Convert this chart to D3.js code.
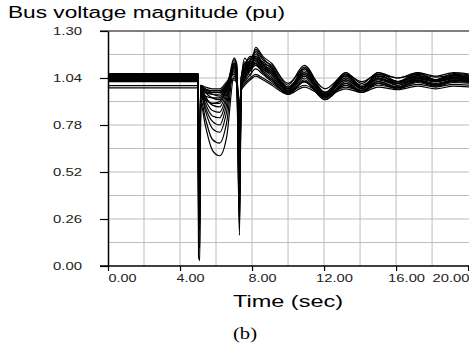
<!DOCTYPE html>
<html>
<head>
<meta charset="utf-8">
<script src="https://d3js.org/d3.v7.min.js"></script>
<style>
  body { margin: 0; background: #fff; }
  svg { display: block; }
</style>
</head>
<body>
<div id="chart"></div>
<script>
// time samples (sec) shared by all bus traces
const times = [0, 5.0, 5.03, 5.1, 5.15, 5.4, 5.8, 6.2, 6.6, 7.0, 7.15, 7.3, 7.4, 7.6, 7.9, 8.2, 8.6, 9.1, 10.0, 10.9, 12.05, 13.2, 14.1, 15.0, 16.1, 17.2, 18.2, 19.2, 20.2];

// bus voltage magnitudes (pu), one array per bus
const bus1  = [1.065, 1.065, 0.05, 0.03, 0.90, 0.78, 0.64, 0.61, 0.72, 1.05, 1.02, 0.17, 0.98, 1.12, 1.05, 1.20, 1.15, 1.10, 0.96, 1.09, 0.93, 1.06, 0.98, 1.07, 1.02, 1.07, 1.03, 1.065, 1.055];
const bus2  = [1.06, 1.06, 0.12, 0.10, 0.92, 0.82, 0.70, 0.68, 0.80, 1.10, 1.06, 0.21, 1.00, 1.08, 1.14, 1.18, 1.12, 1.08, 0.97, 1.10, 0.94, 1.07, 0.99, 1.06, 1.01, 1.065, 1.03, 1.06, 1.05];
const bus3  = [1.058, 1.058, 0.37, 0.35, 0.95, 0.86, 0.76, 0.74, 0.86, 1.13, 1.10, 0.30, 1.02, 1.15, 1.10, 1.21, 1.16, 1.12, 1.00, 1.11, 0.96, 1.07, 1.01, 1.07, 1.04, 1.07, 1.05, 1.07, 1.06];
const bus4  = [1.055, 1.055, 0.44, 0.42, 0.96, 0.88, 0.80, 0.78, 0.90, 1.12, 1.09, 0.35, 1.01, 1.10, 1.16, 1.15, 1.13, 1.09, 0.98, 1.08, 0.95, 1.06, 0.99, 1.05, 1.02, 1.055, 1.03, 1.05, 1.045];
const bus5  = [1.052, 1.052, 0.52, 0.50, 0.97, 0.90, 0.83, 0.82, 0.93, 1.14, 1.11, 0.38, 1.03, 1.13, 1.08, 1.17, 1.12, 1.10, 0.99, 1.07, 0.96, 1.05, 0.99, 1.05, 1.02, 1.05, 1.03, 1.045, 1.04];
const bus6  = [1.05, 1.05, 0.32, 0.30, 0.98, 0.92, 0.86, 0.85, 0.95, 1.11, 1.08, 0.42, 1.04, 1.12, 1.15, 1.16, 1.11, 1.07, 0.98, 1.06, 0.95, 1.04, 0.98, 1.04, 1.01, 1.04, 1.02, 1.04, 1.035];
const bus7  = [1.048, 1.048, 0.57, 0.55, 0.99, 0.94, 0.89, 0.88, 0.97, 1.15, 1.12, 0.50, 1.05, 1.09, 1.13, 1.19, 1.14, 1.11, 1.01, 1.09, 0.98, 1.06, 1.02, 1.06, 1.04, 1.06, 1.045, 1.055, 1.05];
const bus8  = [1.045, 1.045, 0.47, 0.45, 0.97, 0.93, 0.90, 0.90, 0.98, 1.10, 1.07, 0.55, 1.00, 1.06, 1.12, 1.14, 1.10, 1.06, 0.97, 1.05, 0.94, 1.03, 0.98, 1.04, 1.00, 1.035, 1.02, 1.035, 1.03];
const bus9  = [1.042, 1.042, 0.62, 0.60, 1.00, 0.96, 0.93, 0.92, 0.99, 1.12, 1.09, 0.60, 1.03, 1.10, 1.14, 1.15, 1.11, 1.08, 0.99, 1.07, 0.96, 1.05, 1.00, 1.05, 1.02, 1.045, 1.03, 1.045, 1.04];
const bus10 = [1.04, 1.04, 0.27, 0.25, 0.96, 0.94, 0.93, 0.93, 1.00, 1.09, 1.06, 0.65, 0.99, 1.05, 1.10, 1.13, 1.09, 1.05, 0.96, 1.04, 0.93, 1.02, 0.97, 1.03, 1.00, 1.03, 1.01, 1.03, 1.025];
const bus11 = [1.037, 1.037, 0.67, 0.65, 1.00, 0.97, 0.95, 0.94, 1.00, 1.11, 1.08, 0.70, 1.02, 1.08, 1.12, 1.14, 1.10, 1.07, 0.98, 1.06, 0.95, 1.04, 0.99, 1.04, 1.01, 1.04, 1.025, 1.04, 1.035];
const bus12 = [1.035, 1.035, 0.40, 0.38, 0.98, 0.96, 0.95, 0.95, 1.00, 1.08, 1.05, 0.75, 0.98, 1.04, 1.09, 1.12, 1.08, 1.04, 0.95, 1.03, 0.92, 1.01, 0.96, 1.02, 0.99, 1.025, 1.00, 1.025, 1.02];
const bus13 = [1.032, 1.032, 0.72, 0.70, 1.00, 0.98, 0.96, 0.96, 1.01, 1.10, 1.07, 0.80, 1.01, 1.07, 1.11, 1.13, 1.09, 1.06, 0.97, 1.05, 0.95, 1.03, 0.98, 1.035, 1.01, 1.035, 1.02, 1.035, 1.03];
const bus14 = [1.03, 1.03, 0.50, 0.48, 0.99, 0.98, 0.97, 0.97, 1.01, 1.07, 1.04, 0.45, 0.99, 1.03, 1.08, 1.11, 1.07, 1.03, 0.95, 1.02, 0.93, 1.01, 0.97, 1.02, 0.99, 1.025, 1.005, 1.025, 1.02];
const bus15 = [1.025, 1.025, 0.60, 0.58, 1.00, 0.99, 0.98, 0.98, 1.02, 1.06, 1.03, 0.85, 1.00, 1.02, 1.06, 1.09, 1.06, 1.02, 0.96, 1.02, 0.94, 1.00, 0.97, 1.01, 0.99, 1.02, 1.00, 1.02, 1.015];
const bus16 = [1.02, 1.02, 0.22, 0.20, 0.94, 0.92, 0.90, 0.91, 0.98, 1.08, 1.05, 0.25, 0.97, 1.04, 1.10, 1.12, 1.07, 1.03, 0.95, 1.02, 0.92, 1.00, 0.96, 1.01, 0.98, 1.015, 0.995, 1.015, 1.01];
const bus17 = [0.998, 0.998, 0.68, 0.66, 0.98, 0.97, 0.97, 0.97, 0.99, 1.04, 1.02, 0.88, 0.98, 1.01, 1.04, 1.06, 1.04, 1.01, 0.96, 1.00, 0.95, 0.99, 0.97, 1.00, 0.985, 1.005, 0.99, 1.005, 1.0];
const bus18 = [0.985, 0.985, 0.57, 0.55, 0.97, 0.96, 0.96, 0.96, 0.98, 1.03, 1.01, 0.90, 0.97, 1.00, 1.03, 1.05, 1.03, 1.00, 0.95, 0.99, 0.94, 0.98, 0.96, 0.99, 0.975, 0.995, 0.98, 0.995, 0.99];

const buses = [bus1, bus2, bus3, bus4, bus5, bus6, bus7, bus8, bus9, bus10,
  bus11, bus12, bus13, bus14, bus15, bus16, bus17, bus18];

// axis ticks
const yTicks = [0.00, 0.26, 0.52, 0.78, 1.04, 1.30];
const yGrid = [0.13, 0.39, 0.65, 0.91, 1.17, 0.26, 0.52, 0.78, 1.04];
const xTicks = [0, 4, 8, 12, 16, 20];
const xGrid = [2, 4, 6, 8, 10, 12, 14, 16, 18];

const W = 469, H = 350;
const margin = { top: 31, right: 0, bottom: 84, left: 108 },
  width = W - margin.left - margin.right,
  height = H - margin.top - margin.bottom;

const svg = d3.select("#chart").append("svg")
  .attr("width", W)
  .attr("height", H);

const x = d3.scaleLinear().domain([0, 20.05]).range([0, width]);
const y = d3.scaleLinear().domain([0, 1.30]).range([height, 0]);

const g = svg.append("g")
  .attr("transform", "translate(" + margin.left + "," + margin.top + ")");

// grid
g.append("g").selectAll("line")
  .data(yGrid).enter().append("line")
    .attr("x1", 0).attr("x2", width)
    .attr("y1", d => y(d)).attr("y2", d => y(d))
    .style("stroke", "#bdbdbd").style("stroke-width", 1);

g.append("g").selectAll("line")
  .data(xGrid).enter().append("line")
    .attr("x1", d => x(d)).attr("x2", d => x(d))
    .attr("y1", 0).attr("y2", height)
    .style("stroke", "#bdbdbd").style("stroke-width", 1);

// traces
svg.append("clipPath").attr("id", "clip")
  .append("rect").attr("width", width).attr("height", height);

const line = d3.line()
  .x((d, i) => x(times[i]))
  .y(d => y(d))
  .curve(d3.curveMonotoneX);

g.append("g").attr("clip-path", "url(#clip)")
  .selectAll("path")
  .data(buses).enter().append("path")
    .attr("d", line)
    .style("fill", "none")
    .style("stroke", "#000")
    .style("stroke-width", 1.2);

// top frame line
g.append("line")
  .attr("x1", -8).attr("x2", width)
  .attr("y1", 0).attr("y2", 0)
  .style("stroke", "#000").style("stroke-width", 1.2);

// y axis
const yAxis = g.append("g")
  .call(d3.axisLeft(y).tickValues(yTicks).tickSize(8).tickSizeOuter(0).tickFormat(d3.format(".2f")));
yAxis.select(".domain").style("stroke-width", 1.5);
yAxis.selectAll(".tick line").style("stroke-width", 1.2);
yAxis.selectAll("text")
  .attr("x", -55)
  .attr("dy", "0.36em")
  .attr("text-anchor", "start")
  .attr("textLength", 29)
  .attr("lengthAdjust", "spacingAndGlyphs")
  .style("font-family", "Arial, 'Liberation Sans', sans-serif")
  .style("font-size", "11px")
  .style("fill", "#222");

// x axis (label x is relative to its tick)
const xAxis = g.append("g")
  .attr("transform", "translate(0," + height + ")")
  .call(d3.axisBottom(x).tickValues(xTicks).tickSize(5).tickSizeOuter(0).tickFormat(d3.format(".2f")));
xAxis.select(".domain").attr("d", "M-8,0H" + width).style("stroke-width", 1.5);
xAxis.selectAll(".tick line").style("stroke-width", 1.2);
xAxis.selectAll("text")
  .attr("y", 16)
  .attr("dy", 0)
  .attr("x", function (d) {
    const w = d >= 10 ? 37 : 28;
    let off = d === 0 ? 14 : 10;
    if (x(d) + off + w / 2 > width) off = width - x(d) - w / 2;
    return off;
  })
  .attr("textLength", d => d >= 10 ? 37 : 28)
  .attr("lengthAdjust", "spacingAndGlyphs")
  .style("font-family", "Arial, 'Liberation Sans', sans-serif")
  .style("font-size", "11px")
  .style("fill", "#222");

// titles
svg.append("text")
  .attr("x", 8)
  .attr("y", 18)
  .attr("textLength", 277)
  .attr("lengthAdjust", "spacingAndGlyphs")
  .style("font-family", "Arial, 'Liberation Sans', sans-serif")
  .style("font-size", "16px")
  .text("Bus voltage magnitude (pu)");

svg.append("text")
  .attr("x", 233)
  .attr("y", 307)
  .attr("textLength", 110)
  .attr("lengthAdjust", "spacingAndGlyphs")
  .style("font-family", "Arial, 'Liberation Sans', sans-serif")
  .style("font-size", "16px")
  .text("Time (sec)");

svg.append("text")
  .attr("x", 233)
  .attr("y", 339)
  .attr("textLength", 24)
  .attr("lengthAdjust", "spacingAndGlyphs")
  .style("font-family", "'Times New Roman', 'Liberation Serif', serif")
  .style("font-size", "16px")
  .text("(b)");
</script>
</body>
</html>
